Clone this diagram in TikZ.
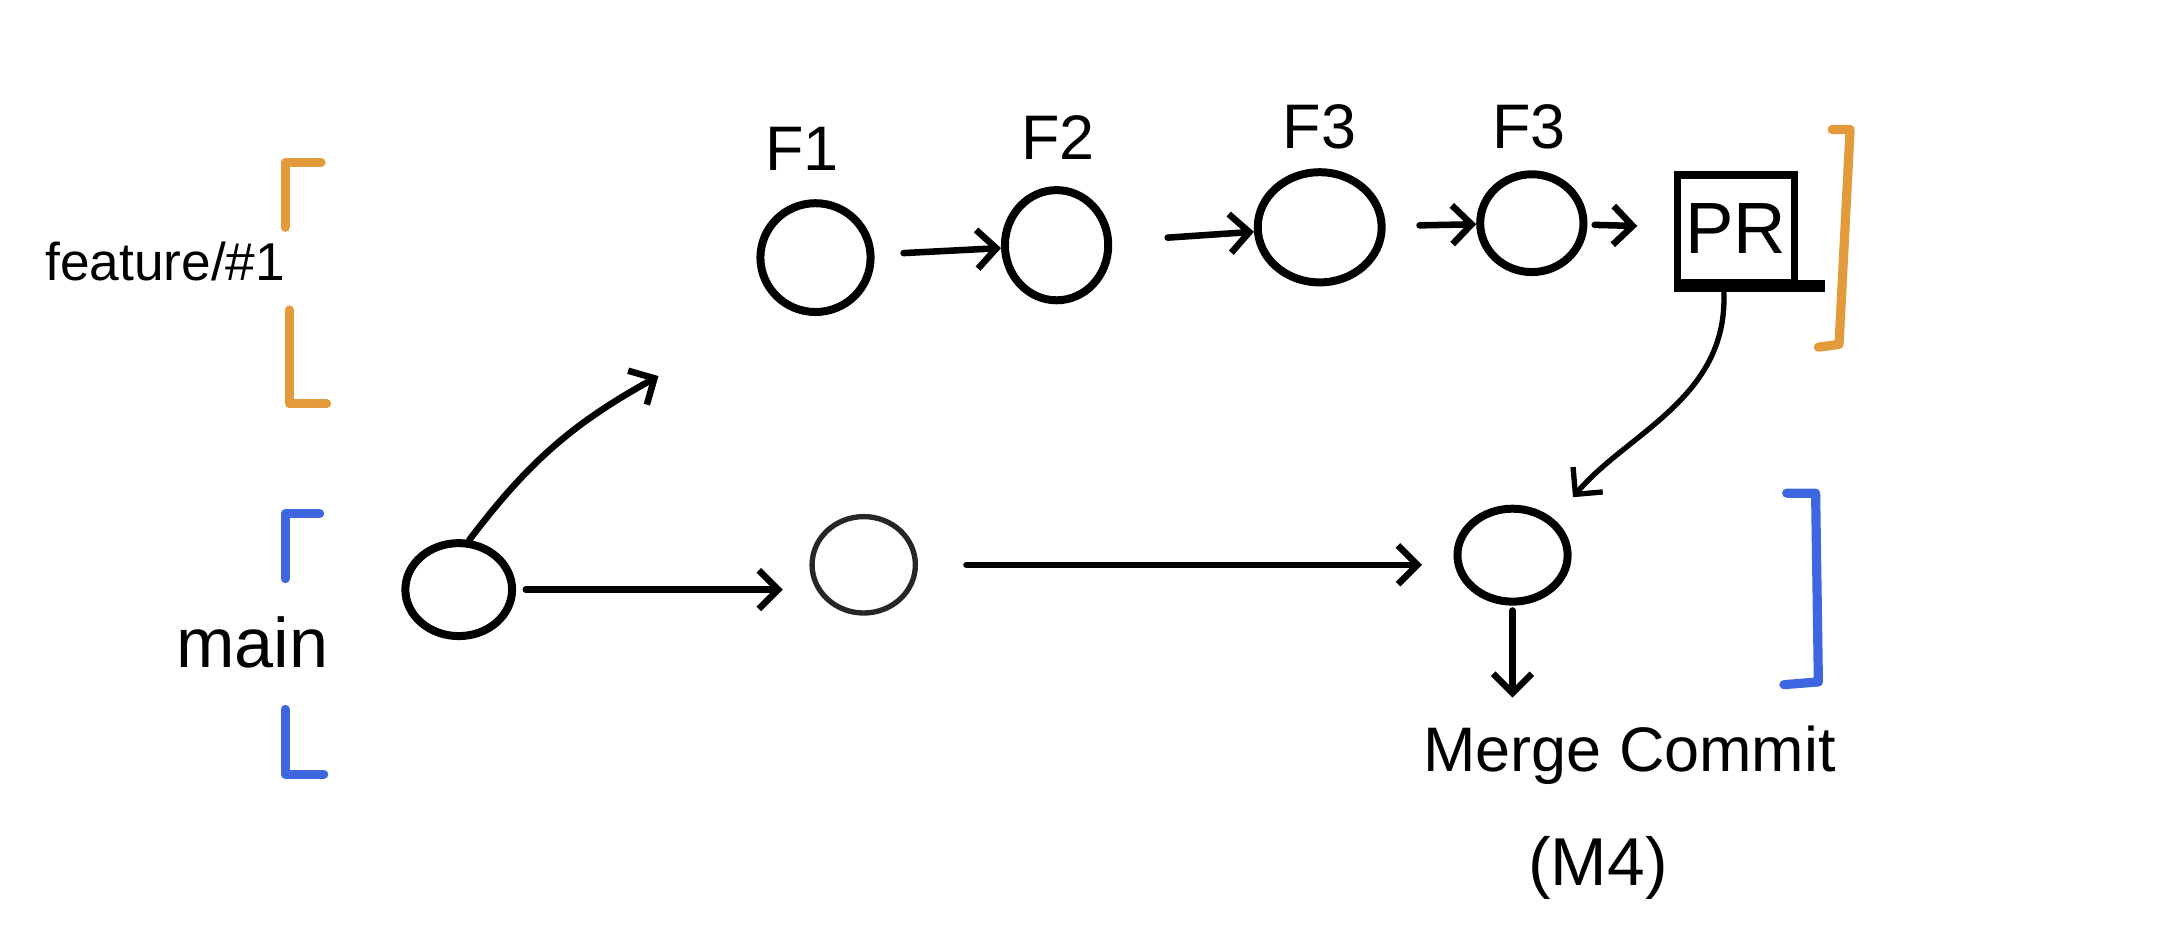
\documentclass[tikz,border=0pt]{standalone}
\usepackage{fontspec}
\setmainfont{Liberation Sans}
\usetikzlibrary{arrows.meta, shapes.geometric}
\definecolor{feat-orange}{HTML}{E39A3B}
\definecolor{main-blue}{HTML}{3D66E0}

\begin{document}
\begin{tikzpicture}[x=0.02cm, y=-0.02cm,
        commit/.style={draw, ellipse, line width=3.3pt, inner sep=0pt},
        link/.style={-{Straight Barb[length=8pt, width=16pt]},
          line width=2.7pt, line cap=round},
        hand/.style={font=\fontsize{26}{31}\selectfont},
        brace/.style={line width=3.8pt, line cap=round, line join=round}]
      \useasboundingbox (0,0) rectangle (1568,677);
      % branch names
      \node[hand, font=\fontsize{22}{26}\selectfont] (featname) at (120,190) {feature/\#1};
      \node[hand, font=\fontsize{29}{34}\selectfont] (mainname) at (183,466) {main};
      % commits on main
      \node[commit, minimum width=1.55cm, minimum height=1.35cm] (m1) at (333,428) {};
      \node[commit, line width=2.2pt, draw=black!85,
            minimum width=1.5cm, minimum height=1.4cm] (m2) at (627,410) {};
      \node[commit, minimum width=1.6cm, minimum height=1.35cm] (merge) at (1098,403) {};
      % commits on the feature branch
      \node[commit, minimum width=1.6cm, minimum height=1.58cm] (f1) at (592,187) {};
      \node[commit, minimum width=1.5cm, minimum height=1.6cm] (f2) at (767,178) {};
      \node[commit, minimum width=1.8cm, minimum height=1.6cm] (f3) at (958,165) {};
      \node[commit, minimum width=1.5cm, minimum height=1.42cm] (f4) at (1112,162) {};
      \node[draw, line width=3pt, minimum width=1.7cm, minimum height=1.56cm,
            hand, font=\fontsize{30}{36}\selectfont] (pr) at (1260,166) {PR};
      \draw[line width=5pt] (pr.south west) -- ([xshift=0.4cm]pr.south east);
      \node[hand] (f1name) at (582,108) {F1};
      \node[hand] (f2name) at (768,100) {F2};
      \node[hand] (f3name) at (958,92) {F3};
      \node[hand] (f4name) at (1110,92) {F3};
      \node[hand] (mergename) at (1183,548) {Merge Commit};
      \node[hand, font=\fontsize{28}{34}\selectfont] (mergeid) at (1160,630) {(M4)};
      \coordinate (branchoff) at (478,273);
      % connectors
      \draw[link] (m1.78) to[bend left=12] (branchoff);
      \draw[link, shorten <=4pt, shorten >=11pt] (m1) -- (m1 -| m2.west);
      \draw[link, shorten <=20pt, shorten >=13pt] (m2) -- (m2 -| merge.west);
      \draw[link, shorten <=12pt] (f1) -- (f2);
      \draw[link, shorten <=23pt] (f2) -- (f3);
      \draw[link, shorten <=14pt] (f3) -- (f4);
      \draw[link, shorten <=3pt, shorten >=15pt] (f4) -- (pr);
      \draw[link, line width=2.2pt, shorten <=3pt, shorten >=12pt]
        ([xshift=-5pt]pr.south) to[out=-88, in=50] (merge.north east);
      \draw[link, shorten <=2pt, shorten >=8pt] (merge.south) -- (merge.south |- mergename.north);
      % branch brackets
      \draw[brace, feat-orange] (233,118) -- (207,118) -- (207,165);
      \draw[brace, feat-orange] (210,225) -- (210,293) -- (237,293);
      \draw[brace, main-blue] (232,373) -- (207,373) -- (207,420);
      \draw[brace, main-blue] (207,515) -- (207,562) -- (235,562);
      \draw[brace, feat-orange] (1330,94) -- (1343,94) -- (1335,250) -- (1320,252);
      \draw[brace, main-blue] (1297,358) -- (1318,358) -- (1320,495) -- (1295,497);
\end{tikzpicture}
\end{document}
